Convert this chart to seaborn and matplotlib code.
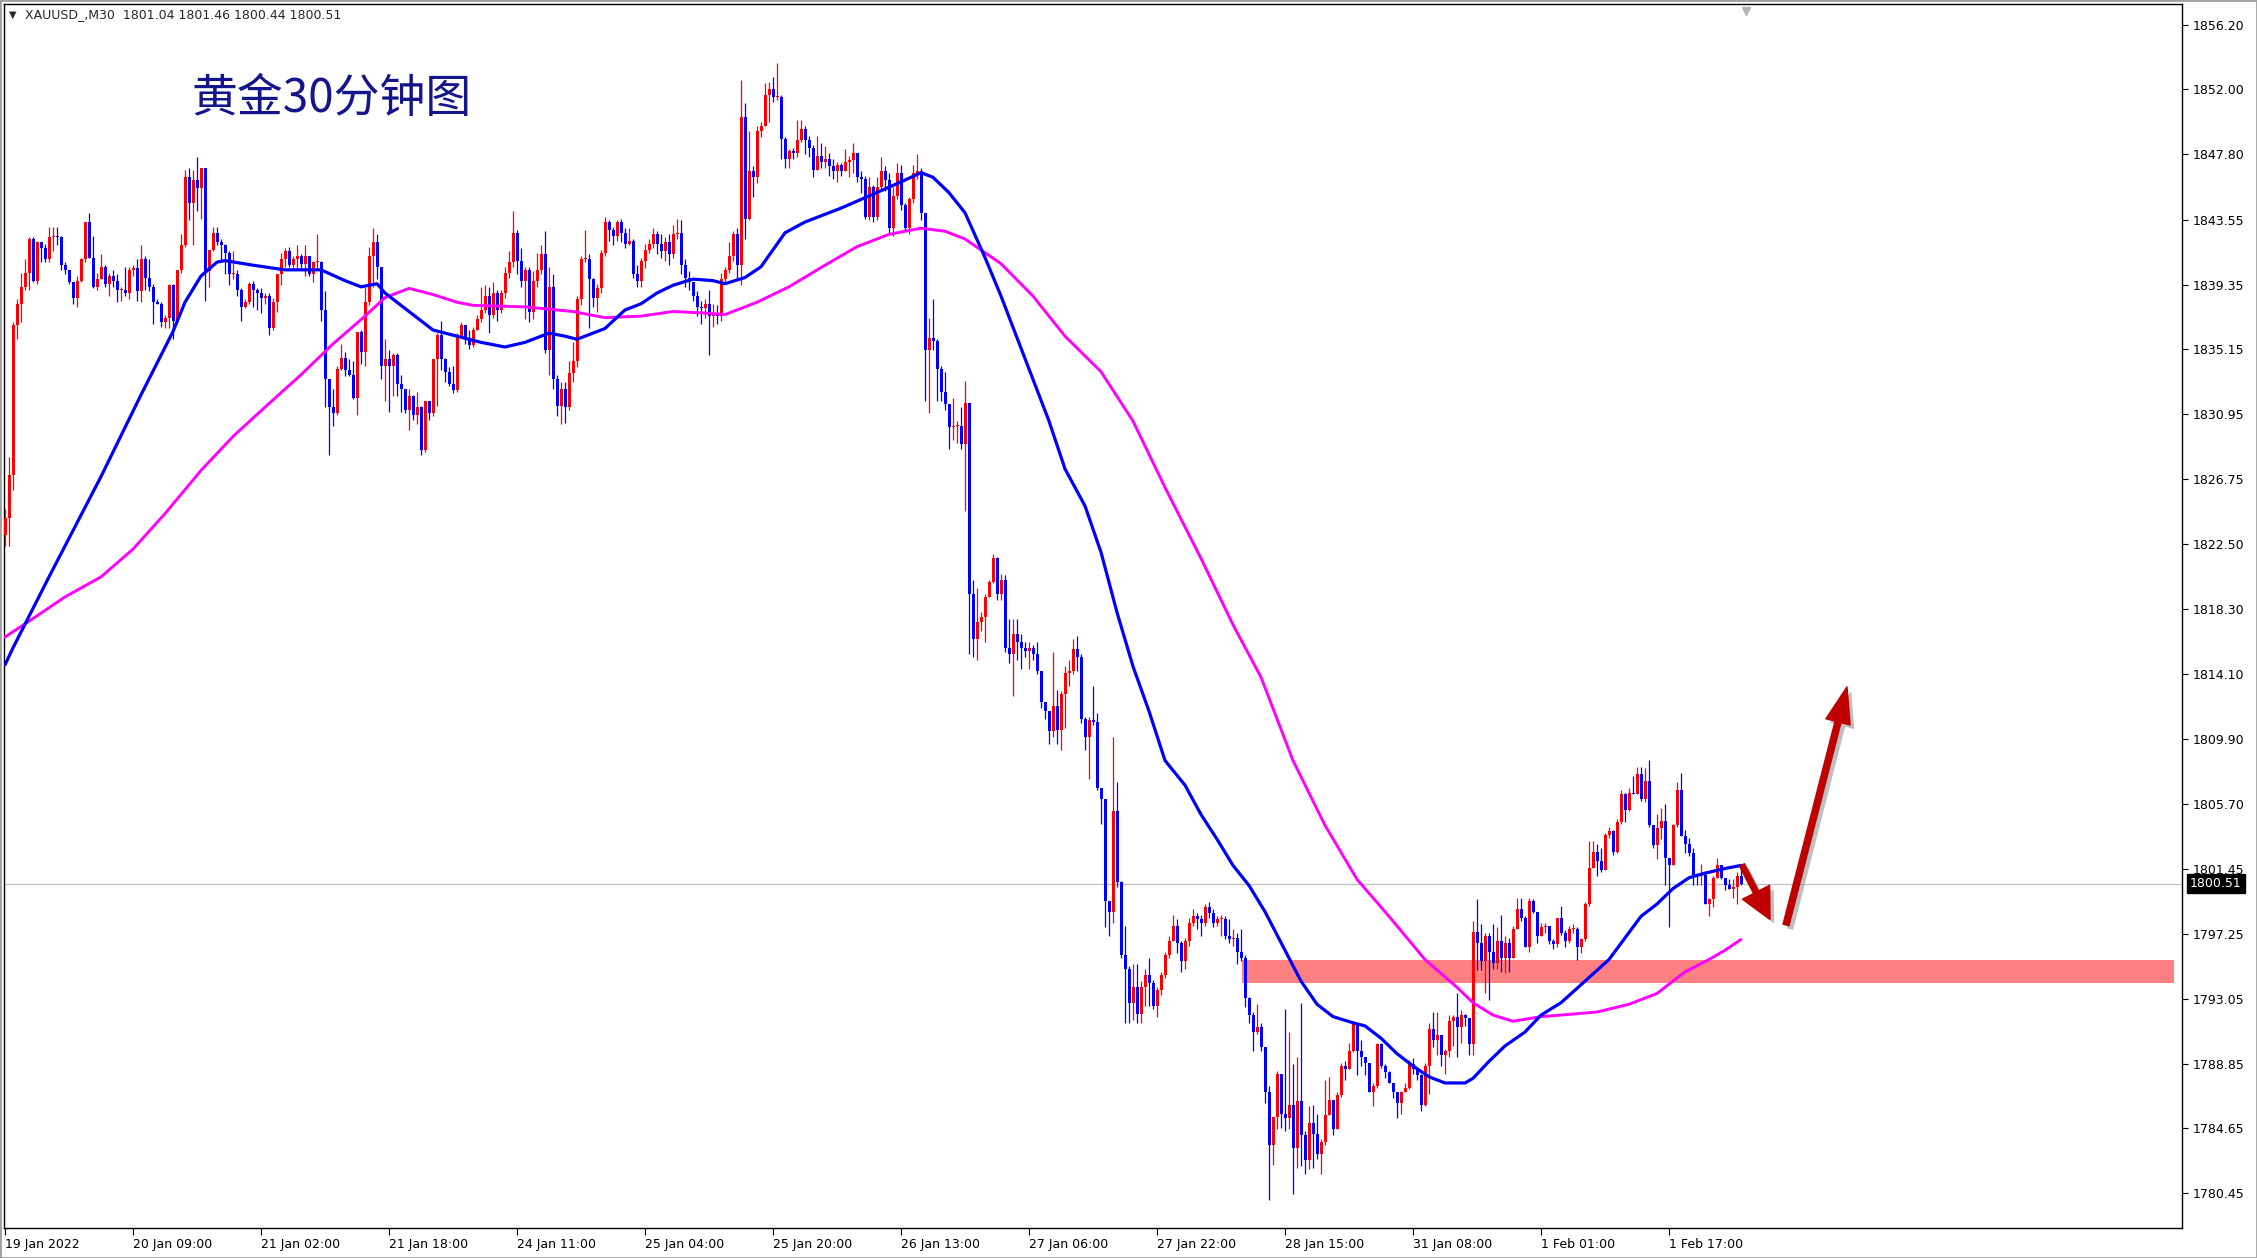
import numpy as np
import matplotlib
matplotlib.use("Agg")
import matplotlib.pyplot as plt
import matplotlib.patheffects as pe
from matplotlib.patches import Rectangle, FancyArrowPatch
import seaborn as sns

# ==========================================
# DATA (XAUUSD M30)
# ==========================================

first_open = 1823.1

closes = [
    1824.2, 1827.0, 1836.7, 1838.1, 1839.2, 1840.1, 1842.3, 1839.6, 1842.1, 1841.7,
    1841.0, 1842.4, 1842.5, 1842.4, 1840.6, 1840.3, 1839.5, 1838.5, 1839.6, 1841.0,
    1843.4, 1841.1, 1839.2, 1839.7, 1840.5, 1839.4, 1839.9, 1839.6, 1839.0, 1839.0,
    1838.8, 1840.3, 1840.4, 1838.9, 1841.0, 1839.8, 1839.2, 1838.2, 1838.1, 1836.9,
    1837.2, 1839.3, 1837.0, 1840.3, 1841.9, 1846.3, 1844.6, 1846.1, 1845.6, 1846.9,
    1840.2, 1841.6, 1842.7, 1842.1, 1841.9, 1841.4, 1840.0, 1840.0, 1839.0, 1837.9,
    1838.2, 1839.4, 1839.0, 1838.8, 1838.5, 1838.6, 1836.5, 1838.2, 1840.0, 1841.0,
    1841.5, 1840.6, 1841.0, 1841.2, 1840.7, 1841.2, 1840.0, 1840.8, 1840.8, 1837.7,
    1833.2, 1831.4, 1831.0, 1833.9, 1834.6, 1833.8, 1833.5, 1832.0, 1836.3, 1835.0,
    1838.2, 1841.2, 1842.1, 1840.5, 1834.1, 1834.5, 1834.1, 1834.8, 1832.9, 1832.6,
    1831.2, 1832.1, 1830.9, 1831.4, 1828.6, 1831.8, 1831.0, 1834.5, 1836.1, 1834.5,
    1833.7, 1832.9, 1832.5, 1836.0, 1836.7, 1835.9, 1835.4, 1836.4, 1837.1, 1837.7,
    1838.6, 1837.4, 1838.8, 1837.7, 1838.8, 1840.1, 1840.8, 1842.7, 1840.9, 1839.6,
    1840.3, 1837.6, 1839.6, 1840.3, 1841.3, 1835.1, 1839.2, 1833.2, 1831.5, 1832.6,
    1831.4, 1833.6, 1834.4, 1838.4, 1841.0, 1841.0, 1839.7, 1838.5, 1839.1, 1841.4,
    1843.4, 1842.9, 1842.5, 1843.4, 1842.7, 1842.0, 1842.2, 1840.0, 1839.6, 1840.9,
    1841.6, 1842.0, 1842.6, 1842.0, 1841.5, 1842.1, 1841.3, 1842.6, 1842.7, 1840.6,
    1839.8, 1839.5, 1838.6, 1837.9, 1837.8, 1838.1, 1837.3, 1837.5, 1837.3, 1839.7,
    1840.3, 1841.2, 1842.6, 1840.6, 1850.2, 1843.6, 1846.7, 1846.3, 1849.3, 1849.6,
    1851.6, 1852.0, 1851.5, 1851.5, 1848.8, 1847.5, 1848.0, 1847.9, 1848.7, 1849.4,
    1848.7, 1848.2, 1846.8, 1847.7, 1847.3, 1847.5, 1847.0, 1846.7, 1847.1, 1846.7,
    1847.3, 1847.4, 1847.9, 1846.3, 1846.2, 1843.7, 1845.7, 1843.7, 1845.7, 1846.7,
    1846.1, 1843.0, 1845.1, 1846.6, 1844.5, 1843.0, 1844.9, 1846.6, 1846.7, 1844.0,
    1835.1, 1835.9, 1835.7, 1833.9, 1832.4, 1831.6, 1830.1, 1830.2, 1830.2, 1829.0,
    1831.7, 1819.3, 1816.4, 1817.5, 1817.8, 1819.1, 1820.1, 1821.6, 1819.3, 1820.2,
    1815.8, 1815.4, 1816.7, 1816.2, 1815.8, 1815.6, 1815.8, 1815.4, 1814.3, 1812.3,
    1811.7, 1810.4, 1812.0, 1810.5, 1812.8, 1814.2, 1814.3, 1815.7, 1815.2, 1811.2,
    1810.0, 1811.1, 1811.0, 1806.7, 1806.0, 1799.4, 1798.7, 1805.2, 1800.6, 1795.9,
    1795.0, 1792.8, 1793.8, 1792.1, 1793.8, 1794.6, 1794.1, 1792.6, 1793.6, 1794.6,
    1795.9, 1796.8, 1797.8, 1796.7, 1795.5, 1796.8, 1798.0, 1798.4, 1798.2, 1798.0,
    1799.0, 1798.6, 1798.0, 1798.2, 1798.2, 1797.1, 1796.9, 1797.0, 1796.1, 1795.7,
    1793.1, 1792.0, 1790.9, 1791.2, 1789.9, 1787.0, 1783.6, 1785.4, 1788.2, 1785.6,
    1785.3, 1786.2, 1783.4, 1786.4, 1784.2, 1782.6, 1785.0, 1784.3, 1783.0, 1783.8,
    1785.5, 1786.5, 1784.6, 1786.8, 1788.7, 1788.5, 1789.7, 1791.4, 1789.7, 1789.3,
    1788.9, 1787.0, 1787.4, 1790.1, 1788.7, 1788.3, 1787.6, 1787.0, 1786.3, 1787.0,
    1787.3, 1788.8, 1788.5, 1788.1, 1786.2, 1788.7, 1791.1, 1790.4, 1790.7, 1789.4,
    1789.7, 1791.6, 1791.9, 1791.2, 1792.0, 1791.8, 1790.1, 1797.4, 1796.7, 1795.5,
    1797.1, 1796.1, 1795.4, 1796.8, 1795.7, 1796.7, 1795.7, 1797.6, 1798.9, 1798.3,
    1796.4, 1799.4, 1798.7, 1797.1, 1797.7, 1797.8, 1796.8, 1796.6, 1798.3, 1797.3,
    1796.8, 1797.6, 1797.6, 1796.4, 1796.9, 1799.2, 1801.5, 1802.6, 1802.0, 1801.4,
    1803.7, 1803.9, 1802.6, 1804.5, 1806.3, 1805.3, 1806.4, 1806.3, 1807.6, 1806.0,
    1807.2, 1804.3, 1803.0, 1804.1, 1804.6, 1802.2, 1801.7, 1804.3, 1806.6, 1803.6,
    1803.1, 1802.5, 1801.1, 1801.0, 1801.1, 1799.2, 1799.5, 1800.9, 1801.7, 1800.9,
    1800.4, 1800.2, 1800.3, 1801.04, 1800.51,
]

highs = [
    1824.8, 1828.2, 1836.9, 1838.4, 1840.1, 1841.0, 1842.4, 1842.4, 1842.2, 1842.0,
    1842.0, 1843.1, 1843.1, 1843.1, 1842.5, 1840.8, 1840.2, 1839.5, 1839.9, 1841.1,
    1843.4, 1844.0, 1842.5, 1840.1, 1841.3, 1840.6, 1840.1, 1840.3, 1840.0, 1839.2,
    1840.5, 1840.5, 1840.6, 1841.0, 1841.9, 1841.2, 1841.0, 1839.4, 1838.4, 1838.2,
    1837.4, 1839.4, 1839.4, 1840.3, 1842.6, 1846.8, 1846.9, 1846.8, 1847.6, 1846.9,
    1846.7, 1841.6, 1843.1, 1843.1, 1842.3, 1842.0, 1841.5, 1841.5, 1840.3, 1839.1,
    1838.4, 1839.5, 1839.6, 1839.1, 1839.1, 1838.8, 1838.8, 1838.5, 1840.0, 1841.4,
    1841.7, 1841.8, 1841.2, 1841.9, 1841.3, 1841.9, 1841.2, 1840.9, 1842.6, 1840.9,
    1838.9, 1833.2, 1832.6, 1834.1, 1835.5, 1835.0, 1834.5, 1834.4, 1836.3, 1836.4,
    1839.2, 1841.8, 1843.0, 1842.6, 1840.5, 1835.8, 1835.1, 1834.9, 1834.9, 1833.5,
    1832.6, 1832.6, 1832.2, 1832.4, 1831.5, 1831.8, 1831.8, 1834.5, 1836.2, 1837.0,
    1834.6, 1834.0, 1834.1, 1836.2, 1836.9, 1836.7, 1836.4, 1836.6, 1837.4, 1839.2,
    1839.3, 1839.2, 1839.5, 1839.0, 1839.0, 1840.5, 1841.5, 1844.1, 1842.9, 1841.7,
    1840.5, 1840.5, 1840.2, 1841.4, 1841.9, 1842.8, 1840.5, 1840.0, 1833.5, 1833.0,
    1833.0, 1834.4, 1835.6, 1838.6, 1841.2, 1842.9, 1841.3, 1839.8, 1839.4, 1841.6,
    1843.7, 1843.5, 1843.1, 1843.5, 1843.6, 1843.0, 1843.0, 1842.3, 1840.6, 1841.1,
    1842.0, 1842.3, 1843.0, 1842.8, 1842.6, 1842.4, 1842.6, 1843.2, 1843.6, 1843.5,
    1841.0, 1840.2, 1839.5, 1838.9, 1838.3, 1838.4, 1839.0, 1838.1, 1838.0, 1840.1,
    1840.5, 1842.1, 1842.8, 1843.0, 1852.6, 1851.1, 1849.3, 1847.0, 1849.6, 1849.9,
    1852.4, 1852.5, 1852.8, 1853.7, 1851.6, 1848.9, 1848.1, 1848.2, 1850.0, 1850.0,
    1849.6, 1849.0, 1848.4, 1849.0, 1848.5, 1848.3, 1847.9, 1847.5, 1847.3, 1847.2,
    1848.1, 1847.7, 1848.5, 1847.9, 1846.7, 1846.4, 1846.3, 1845.8, 1846.3, 1847.6,
    1847.0, 1846.6, 1845.7, 1847.2, 1847.1, 1844.6, 1845.0, 1847.1, 1847.8, 1846.9,
    1843.8, 1837.2, 1838.4, 1835.8, 1834.1, 1833.7, 1831.6, 1832.0, 1830.5, 1831.4,
    1833.1, 1831.7, 1820.2, 1819.7, 1818.1, 1819.3, 1820.2, 1821.9, 1821.7, 1820.6,
    1820.5, 1817.7, 1817.7, 1817.7, 1816.7, 1816.2, 1816.2, 1816.0, 1816.2, 1814.3,
    1812.3, 1811.7, 1815.5, 1813.1, 1813.0, 1814.6, 1815.0, 1816.4, 1816.6, 1815.4,
    1811.3, 1811.3, 1813.3, 1811.6, 1806.7, 1806.0, 1799.4, 1810.0, 1807.1, 1800.7,
    1797.8, 1795.2, 1795.3, 1795.3, 1794.2, 1795.0, 1795.7, 1794.3, 1793.8, 1794.8,
    1796.1, 1797.1, 1798.5, 1798.2, 1796.8, 1797.0, 1798.3, 1798.9, 1798.6, 1798.5,
    1799.2, 1799.3, 1798.9, 1798.4, 1798.5, 1798.4, 1798.2, 1797.6, 1797.3, 1797.6,
    1795.9, 1793.2, 1792.2, 1792.7, 1791.5, 1789.9, 1787.4, 1785.4, 1788.4, 1788.2,
    1792.4, 1790.9, 1788.8, 1789.3, 1792.8, 1784.5, 1786.1, 1786.2, 1785.6, 1784.0,
    1787.8, 1788.0, 1786.5, 1787.0, 1788.9, 1789.0, 1790.2, 1791.6, 1791.4, 1790.4,
    1789.3, 1788.8, 1787.6, 1790.2, 1790.2, 1788.8, 1788.4, 1787.6, 1787.0, 1787.1,
    1787.6, 1789.1, 1789.2, 1788.6, 1788.2, 1788.9, 1791.5, 1792.2, 1792.2, 1790.7,
    1789.8, 1792.0, 1792.0, 1793.4, 1792.3, 1792.1, 1791.8, 1798.1, 1799.5, 1797.9,
    1797.3, 1797.3, 1797.9, 1797.7, 1798.5, 1797.1, 1797.0, 1797.8, 1799.6, 1799.6,
    1798.4, 1799.6, 1799.5, 1798.7, 1798.0, 1798.0, 1797.8, 1796.9, 1798.3, 1799.1,
    1797.5, 1797.8, 1797.9, 1797.7, 1797.0, 1799.3, 1803.3, 1803.3, 1803.1, 1802.8,
    1803.8, 1804.2, 1804.0, 1804.7, 1806.6, 1806.4, 1806.7, 1807.5, 1808.1, 1808.1,
    1808.0, 1808.5, 1804.3, 1805.0, 1805.4, 1805.7, 1802.2, 1804.4, 1807.1, 1807.7,
    1804.0, 1803.5, 1802.8, 1801.2, 1801.8, 1801.2, 1799.6, 1801.0, 1802.2, 1801.7,
    1800.9, 1800.8, 1800.8, 1801.3, 1801.46,
]

lows = [
    1822.4, 1822.4, 1826.0, 1835.8, 1836.9, 1839.0, 1839.0, 1839.5, 1839.4, 1840.8,
    1840.8, 1840.8, 1841.5, 1841.9, 1840.3, 1840.0, 1839.4, 1838.1, 1837.9, 1839.5,
    1840.8, 1841.1, 1839.1, 1839.0, 1839.7, 1839.2, 1838.6, 1839.2, 1838.2, 1838.3,
    1838.6, 1838.4, 1839.9, 1838.3, 1838.2, 1839.0, 1838.9, 1836.8, 1838.1, 1836.6,
    1836.5, 1836.5, 1835.8, 1837.0, 1840.1, 1841.8, 1843.5, 1841.9, 1844.1, 1843.6,
    1838.3, 1839.2, 1841.5, 1841.9, 1840.9, 1840.0, 1839.3, 1839.7, 1838.6, 1837.0,
    1837.8, 1838.1, 1837.9, 1837.7, 1837.5, 1838.1, 1836.1, 1836.4, 1837.6, 1839.3,
    1840.5, 1840.5, 1840.3, 1840.3, 1840.3, 1839.9, 1839.9, 1839.5, 1840.3, 1837.0,
    1831.4, 1828.3, 1830.2, 1830.9, 1833.8, 1833.4, 1833.4, 1831.9, 1830.9, 1834.2,
    1834.1, 1838.0, 1839.2, 1839.7, 1833.2, 1831.8, 1831.1, 1832.1, 1832.1, 1831.1,
    1831.0, 1829.9, 1830.6, 1830.3, 1828.3, 1828.5, 1830.6, 1830.8, 1831.5, 1833.8,
    1833.0, 1832.8, 1832.3, 1832.4, 1835.9, 1835.5, 1835.2, 1835.3, 1836.4, 1836.9,
    1837.5, 1836.2, 1837.2, 1837.0, 1837.5, 1838.5, 1839.8, 1840.5, 1840.0, 1839.2,
    1837.1, 1836.9, 1837.1, 1839.2, 1840.0, 1834.9, 1833.5, 1832.6, 1830.8, 1830.3,
    1830.4, 1831.2, 1833.0, 1834.0, 1838.0, 1840.8, 1836.5, 1837.9, 1837.6, 1838.8,
    1841.2, 1842.2, 1841.9, 1842.2, 1842.1, 1841.7, 1841.9, 1839.8, 1839.2, 1839.2,
    1840.4, 1841.4, 1841.7, 1841.3, 1841.1, 1840.9, 1840.6, 1841.1, 1842.3, 1840.0,
    1839.2, 1839.0, 1838.3, 1837.3, 1836.8, 1837.2, 1834.8, 1836.6, 1836.8, 1837.0,
    1839.5, 1840.1, 1840.9, 1839.7, 1839.3, 1842.3, 1843.5, 1845.0, 1845.9, 1848.9,
    1849.7, 1849.9, 1851.2, 1851.3, 1847.5, 1846.9, 1846.9, 1847.5, 1847.6, 1848.6,
    1847.8, 1847.6, 1846.3, 1846.8, 1846.9, 1846.9, 1846.4, 1846.2, 1846.0, 1846.4,
    1846.8, 1846.3, 1846.6, 1846.0, 1845.3, 1843.6, 1843.5, 1843.4, 1843.5, 1845.5,
    1845.4, 1842.6, 1842.5, 1844.9, 1844.2, 1842.8, 1842.6, 1844.6, 1846.2, 1843.5,
    1831.8, 1831.0, 1835.1, 1831.8, 1831.8, 1831.2, 1828.7, 1829.3, 1829.1, 1828.7,
    1824.7, 1815.4, 1815.2, 1815.0, 1816.9, 1816.2, 1819.5, 1820.0, 1818.9, 1818.9,
    1815.5, 1814.8, 1812.7, 1815.0, 1814.4, 1815.2, 1814.4, 1815.0, 1814.1, 1811.9,
    1811.2, 1809.6, 1810.0, 1809.6, 1809.2, 1810.6, 1813.3, 1814.1, 1814.3, 1810.9,
    1809.2, 1807.3, 1810.8, 1806.6, 1804.4, 1797.7, 1797.1, 1798.0, 1800.3, 1795.7,
    1791.5, 1791.5, 1791.7, 1791.5, 1791.5, 1792.6, 1792.6, 1792.4, 1791.9, 1793.3,
    1794.4, 1795.7, 1796.8, 1796.0, 1794.8, 1795.0, 1796.5, 1797.8, 1797.6, 1797.1,
    1797.8, 1798.3, 1797.7, 1797.8, 1797.1, 1796.9, 1796.7, 1796.5, 1795.3, 1795.5,
    1792.5, 1791.5, 1789.7, 1790.8, 1789.7, 1786.3, 1780.0, 1782.3, 1784.6, 1784.7,
    1784.5, 1784.6, 1780.4, 1782.1, 1782.2, 1781.7, 1782.0, 1782.1, 1782.7, 1781.7,
    1783.6, 1786.0, 1784.2, 1784.6, 1786.7, 1787.8, 1788.6, 1789.6, 1788.1, 1788.7,
    1788.1, 1787.0, 1786.1, 1787.3, 1788.6, 1787.9, 1787.6, 1786.6, 1785.3, 1785.6,
    1787.0, 1787.2, 1788.2, 1787.8, 1785.8, 1786.1, 1786.9, 1789.9, 1789.4, 1788.7,
    1788.2, 1789.3, 1790.0, 1789.3, 1790.2, 1791.3, 1789.4, 1789.4, 1794.9, 1794.9,
    1793.4, 1793.0, 1795.0, 1795.0, 1794.8, 1794.7, 1794.8, 1795.7, 1797.6, 1798.1,
    1796.4, 1796.1, 1798.6, 1796.7, 1797.5, 1797.3, 1796.6, 1796.3, 1796.4, 1797.2,
    1796.4, 1796.7, 1797.3, 1795.6, 1796.0, 1796.8, 1799.1, 1801.5, 1801.0, 1801.3,
    1801.4, 1803.5, 1802.4, 1802.5, 1804.4, 1804.5, 1805.2, 1806.3, 1806.3, 1805.9,
    1805.8, 1804.2, 1802.8, 1802.1, 1803.4, 1800.4, 1797.7, 1801.7, 1804.2, 1803.6,
    1802.5, 1802.3, 1800.4, 1800.4, 1800.4, 1799.2, 1798.4, 1799.0, 1800.9, 1800.8,
    1800.1, 1800.2, 1799.6, 1799.2, 1800.44,
]

# moving averages (bar index, value) as drawn on the chart
fast_ma_idx = [0, 2, 11, 24, 34, 42, 45, 49, 53, 55, 62, 70, 79, 85, 89, 93, 95, 101, 107, 113,
               119, 125, 130, 136, 140, 143, 146, 150, 155, 159, 163, 167, 172, 177, 180, 185,
               189, 192, 195, 200, 209, 217, 224, 229, 232, 236, 240, 245, 249, 253, 257, 261,
               265, 270, 274, 278, 282, 286, 290, 295, 299, 303, 307, 311, 315, 320, 324, 328,
               332, 337, 340, 344, 348, 352, 356, 360, 365, 367, 371, 375, 380, 384, 389, 395,
               401, 405, 409, 413, 417, 421, 425, 430, 434]
fast_ma_val = [1814.7, 1815.8, 1820.4, 1826.9, 1832.2, 1836.3, 1838.2, 1839.9, 1840.8, 1840.9,
               1840.6, 1840.3, 1840.3, 1839.6, 1839.2, 1839.4, 1838.8, 1837.6, 1836.4, 1836.0,
               1835.6, 1835.3, 1835.6, 1836.2, 1836.0, 1835.8, 1836.1, 1836.5, 1837.7, 1838.1,
               1838.8, 1839.3, 1839.7, 1839.6, 1839.4, 1839.8, 1840.5, 1841.6, 1842.7, 1843.4,
               1844.3, 1845.2, 1846.0, 1846.6, 1846.3, 1845.3, 1844.0, 1841.1, 1838.6, 1835.9,
               1833.2, 1830.5, 1827.4, 1825.0, 1822.0, 1818.1, 1814.6, 1811.7, 1808.5, 1806.9,
               1805.0, 1803.4, 1801.7, 1800.4, 1798.7, 1796.2, 1794.2, 1792.7, 1791.9, 1791.5,
               1791.3, 1790.5, 1789.5, 1788.7, 1788.0, 1787.6, 1787.6, 1787.9, 1789.0, 1790.0,
               1790.9, 1792.0, 1792.8, 1794.2, 1795.6, 1797.0, 1798.4, 1799.2, 1800.2, 1800.9,
               1801.2, 1801.5, 1801.7]

slow_ma_idx = [0, 7, 15, 24, 32, 40, 49, 57, 65, 74, 82, 90, 95, 101, 107, 113, 117, 130, 142,
               150, 159, 167, 175, 180, 188, 196, 205, 213, 221, 229, 235, 240, 249, 257, 265,
               274, 282, 290, 299, 307, 314, 322, 330, 338, 346, 355, 363, 367, 372, 377, 384,
               389, 398, 406, 413, 420, 426, 430, 434]
slow_ma_val = [1816.5, 1817.7, 1819.1, 1820.4, 1822.2, 1824.5, 1827.3, 1829.5, 1831.4, 1833.5,
               1835.5, 1837.3, 1838.5, 1839.1, 1838.7, 1838.2, 1838.0, 1837.9, 1837.6, 1837.2,
               1837.3, 1837.6, 1837.5, 1837.4, 1838.2, 1839.2, 1840.6, 1841.8, 1842.6, 1843.0,
               1842.8, 1842.3, 1840.7, 1838.6, 1836.0, 1833.7, 1830.5, 1826.2, 1821.6, 1817.3,
               1813.9, 1808.5, 1804.3, 1800.8, 1798.4, 1795.6, 1793.8, 1792.8, 1792.0, 1791.6,
               1791.9, 1792.0, 1792.2, 1792.7, 1793.4, 1794.8, 1795.6, 1796.2, 1796.9]

price_ticks = [1856.20, 1852.00, 1847.80, 1843.55, 1839.35, 1835.15, 1830.95, 1826.75,
               1822.50, 1818.30, 1814.10, 1809.90, 1805.70, 1801.45, 1797.25, 1793.05,
               1788.85, 1784.65, 1780.45]

time_labels = ["19 Jan 2022", "20 Jan 09:00", "21 Jan 02:00", "21 Jan 18:00",
               "24 Jan 11:00", "25 Jan 04:00", "25 Jan 20:00", "26 Jan 13:00",
               "27 Jan 06:00", "27 Jan 22:00", "28 Jan 15:00", "31 Jan 08:00",
               "1 Feb 01:00", "1 Feb 17:00"]
bars_per_label = 32

zone_low, zone_high = 1794.1, 1795.6
last_price = 1800.51
header = "XAUUSD_,M30  1801.04 1801.46 1800.44 1800.51"
title = "黄金30分钟图"

# ==========================================
# FIGURE
# ==========================================

sns.set_theme(style="white")
plt.rcParams["font.family"] = ["DejaVu Sans", "Noto Sans CJK SC"]

W, H = 2257, 1258
fig = plt.figure(figsize=(W / 100, H / 100), dpi=100)
fig.patch.set_facecolor("white")
ax = fig.add_axes([4 / W, 30 / H, 2178 / W, 1224 / H])
ax.set_facecolor("white")

# ---------- candles ----------
c = np.array(closes)
o = np.concatenate([[first_open], c[:-1]])
hi = np.maximum(np.array(highs), np.maximum(o, c))
lo = np.minimum(np.array(lows), np.minimum(o, c))
idx = np.arange(len(c))
colors = np.where(c >= o, "#FF0000", "#0000FF")

ax.vlines(idx, lo, hi, colors=colors, lw=0.9, zorder=3)
ax.bar(idx, np.maximum(np.abs(c - o), 0.07), bottom=np.minimum(o, c),
       width=0.75, color=colors, linewidth=0, zorder=4)

# ---------- moving averages ----------
sns.lineplot(x=slow_ma_idx, y=slow_ma_val, color="#FF00FF", lw=2.1,
             estimator=None, sort=False, ax=ax, zorder=5)
sns.lineplot(x=fast_ma_idx, y=fast_ma_val, color="#0000FF", lw=2.3,
             estimator=None, sort=False, ax=ax, zorder=6)

# ---------- support zone + price line ----------
ax.add_patch(Rectangle((309.25, zone_low), 233, zone_high - zone_low,
                       facecolor="#FF8080", edgecolor="none", zorder=2))
ax.axhline(last_price, color="#C0C0C0", lw=0.9, zorder=1.5)

# ---------- arrows ----------
shadow = [pe.SimplePatchShadow(offset=(3, -3), shadow_rgbFace="#808080", alpha=0.5), pe.Normal()]
ax.add_patch(FancyArrowPatch((434.25, 1801.73), (441.25, 1798.2),
                             arrowstyle="simple,head_length=1.1,head_width=1.1,tail_width=0.2",
                             mutation_scale=20, color="#C00000", shrinkA=0, shrinkB=0,
                             zorder=8, path_effects=shadow))
ax.add_patch(FancyArrowPatch((445.25, 1797.84), (460.5, 1813.27),
                             arrowstyle="simple,head_length=1.3,head_width=0.9,tail_width=0.22",
                             mutation_scale=20, color="#C00000", shrinkA=0, shrinkB=0,
                             zorder=8, path_effects=shadow))

# ---------- axes ----------
ax.set_xlim(-0.25, 544.25)
ax.set_ylim(1778.2, 1857.53)
ax.set_xlabel("")
ax.set_ylabel("")

ax.yaxis.tick_right()
ax.set_yticks(price_ticks)
ax.set_yticklabels([f"{v:.2f}" for v in price_ticks])
ax.tick_params(axis="y", direction="out", length=4, width=0.8, pad=4,
               labelsize=9, colors="black", left=False, right=True)

ax.set_xticks([i * bars_per_label for i in range(len(time_labels))])
ax.set_xticklabels(time_labels, ha="left")
ax.tick_params(axis="x", direction="out", length=5, width=0.8, pad=2,
               labelsize=9, colors="black", bottom=True)

for s in ax.spines.values():
    s.set_color("black")
    s.set_linewidth(1.0)

# current price tag
ax.text(1 + 8 / 2178, last_price, f"{last_price:.2f}", transform=ax.get_yaxis_transform(),
        color="white", fontsize=9, va="center", ha="left", zorder=10, clip_on=False,
        bbox=dict(boxstyle="square,pad=0.25", fc="black", ec="black"))

# chart shift marker
ax.plot([435.25], [1857.1], marker="v", color="#B4B4B4", ms=6, clip_on=False, zorder=9)

# ---------- texts ----------
fig.text(9 / W, 1 - 15 / H, "▼", fontsize=7, va="center", ha="left")
fig.text(25 / W, 1 - 15 / H, header, fontsize=9, va="center", ha="left")
fig.text(191 / W, 1 - 99 / H, title, fontsize=33, color="#14148c",
         family=["Noto Sans CJK SC"], va="center", ha="left")

fig.patches.append(Rectangle((0, 0), 1, 1, transform=fig.transFigure, fill=False,
                             ec="#A0A0A0", lw=2))

fig.savefig("out.png", dpi=100)
